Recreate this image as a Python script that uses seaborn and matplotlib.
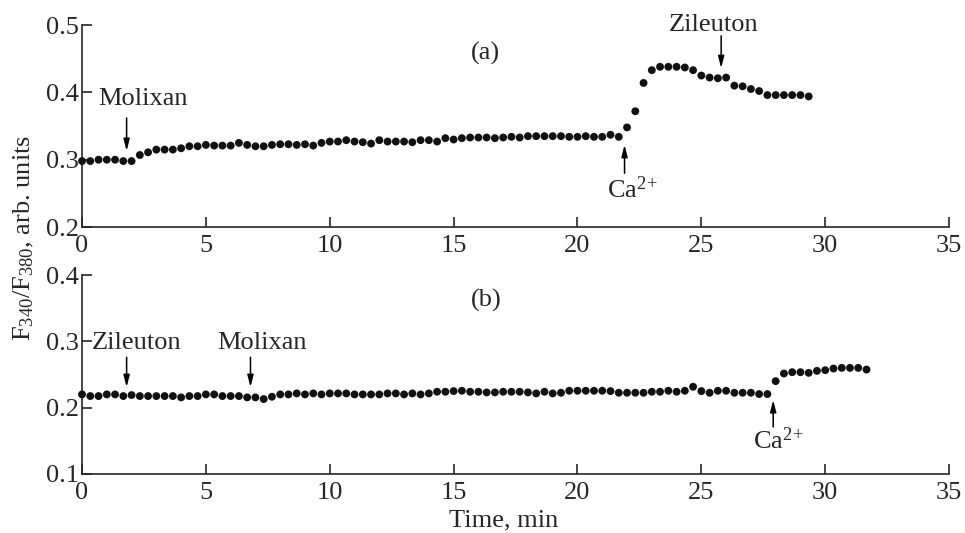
import matplotlib
matplotlib.use("Agg")
import matplotlib.pyplot as plt
import seaborn as sns
import numpy as np
import pandas as pd

# F340/F380 ratio, one reading every 20 s
sample_min = 1 / 3

ratio_a = [
    0.298, 0.298, 0.300, 0.300, 0.300, 0.298, 0.298, 0.307, 0.311, 0.315,
    0.315, 0.315, 0.317, 0.320, 0.320, 0.322, 0.321, 0.321, 0.321, 0.325,
    0.322, 0.320, 0.320, 0.322, 0.323, 0.323, 0.322, 0.323, 0.321, 0.325,
    0.327, 0.327, 0.329, 0.327, 0.326, 0.324, 0.329, 0.327, 0.327, 0.327,
    0.326, 0.329, 0.329, 0.327, 0.332, 0.330, 0.332, 0.333, 0.333, 0.333,
    0.332, 0.333, 0.334, 0.333, 0.335, 0.335, 0.335, 0.335, 0.335, 0.334,
    0.334, 0.335, 0.334, 0.334, 0.337, 0.334,
    0.348, 0.372, 0.414, 0.433, 0.438, 0.438, 0.438, 0.437, 0.433, 0.425,
    0.422, 0.421, 0.422, 0.410, 0.409, 0.405, 0.402, 0.396, 0.396, 0.396,
    0.396, 0.396, 0.394,
]

ratio_b = [
    0.220, 0.2175, 0.2175, 0.220, 0.220, 0.2175, 0.219, 0.2175, 0.2175, 0.2175,
    0.2175, 0.2175, 0.2155, 0.2175, 0.2175, 0.220, 0.220, 0.2175, 0.2175, 0.2175,
    0.2155, 0.2155, 0.213, 0.2165, 0.220, 0.220, 0.2215, 0.220, 0.2215, 0.220,
    0.2215, 0.2215, 0.2215, 0.220, 0.220, 0.220, 0.220, 0.2215, 0.2215, 0.220,
    0.2215, 0.220, 0.2215, 0.224, 0.224, 0.225, 0.2255, 0.224, 0.224, 0.223,
    0.223, 0.224, 0.224, 0.224, 0.223, 0.2215, 0.224, 0.2215, 0.2225, 0.2255,
    0.2255, 0.2255, 0.2255, 0.2255, 0.225, 0.2225, 0.2225, 0.2225, 0.2225, 0.224,
    0.224, 0.2255, 0.224, 0.2255, 0.2315, 0.225, 0.2225, 0.2255, 0.2255, 0.2225,
    0.2225, 0.2225, 0.2205, 0.2205, 0.240, 0.2515, 0.2535, 0.2535, 0.2525, 0.2555,
    0.2565, 0.259, 0.260, 0.260, 0.260, 0.2575,
]

x_ticks = [0, 5, 10, 15, 20, 25, 30, 35]
y_ticks_a = [0.2, 0.3, 0.4, 0.5]
y_ticks_b = [0.1, 0.2, 0.3, 0.4]

df_a = pd.DataFrame({"t": np.arange(len(ratio_a)) * sample_min, "r": ratio_a})
df_b = pd.DataFrame({"t": np.arange(len(ratio_b)) * sample_min, "r": ratio_b})

sns.set_style("ticks")
plt.rcParams["font.family"] = ["Liberation Serif", "DejaVu Serif"]
plt.rcParams["mathtext.fontset"] = "custom"
plt.rcParams["mathtext.rm"] = "Liberation Serif"
plt.rcParams["mathtext.it"] = "Liberation Serif:italic"
fs = 19

fig = plt.figure(figsize=(9.65, 5.33), dpi=100)
ax_a = fig.add_axes([0.085, 0.574, 0.8985, 0.379])
ax_b = fig.add_axes([0.085, 0.1107, 0.8985, 0.3733])

for ax, df, yt in [(ax_a, df_a, y_ticks_a), (ax_b, df_b, y_ticks_b)]:
    sns.scatterplot(data=df, x="t", y="r", ax=ax, color="#111111", s=32,
                    edgecolor="none", clip_on=False, zorder=3)
    ax.set_xlim(0, 35)
    ax.set_ylim(yt[0], yt[-1])
    ax.set_xticks(x_ticks)
    ax.set_yticks(yt)
    ax.set_yticklabels([f"{v:.1f}" for v in yt])
    ax.tick_params(direction="in", length=7, width=1.2, labelsize=fs)
    ax.tick_params(axis="y", pad=2)
    ax.tick_params(axis="x", pad=6)
    ax.set_xlabel("")
    ax.set_ylabel("")
    for s in ["top", "right"]:
        ax.spines[s].set_visible(False)
    for s in ["left", "bottom"]:
        ax.spines[s].set_linewidth(1.2)

arrow = dict(arrowstyle="-|>,head_length=0.7,head_width=0.18", color="black",
             lw=1.1, shrinkA=0, shrinkB=0)
ca = r"Ca$^{2\!+}$"

# panel (a)
ax_a.text(16.3, 0.458, "(a)", fontsize=fs, ha="center", va="center")
ax_a.text(2.45, 0.39, "Molixan", fontsize=fs, ha="center", va="center")
ax_a.annotate("", xy=(1.8, 0.313), xytext=(1.8, 0.362), arrowprops=arrow)
ax_a.text(25.5, 0.50, "Zileuton", fontsize=fs, ha="center", va="center", clip_on=False)
ax_a.annotate("", xy=(25.8, 0.436), xytext=(25.8, 0.484), arrowprops=arrow)
ax_a.annotate("", xy=(21.9, 0.322), xytext=(21.9, 0.280), arrowprops=arrow)
ax_a.text(22.2, 0.255, ca, fontsize=fs, ha="center", va="center")

# panel (b)
ax_b.text(16.3, 0.362, "(b)", fontsize=fs, ha="center", va="center")
ax_b.text(2.2, 0.297, "Zileuton", fontsize=fs, ha="center", va="center")
ax_b.annotate("", xy=(1.8, 0.231), xytext=(1.8, 0.276), arrowprops=arrow)
ax_b.text(7.26, 0.297, "Molixan", fontsize=fs, ha="center", va="center")
ax_b.annotate("", xy=(6.8, 0.231), xytext=(6.8, 0.276), arrowprops=arrow)
ax_b.annotate("", xy=(27.9, 0.2115), xytext=(27.9, 0.171), arrowprops=arrow)
ax_b.text(28.1, 0.151, ca, fontsize=fs, ha="center", va="center")

ax_b.set_xlabel("Time, min", fontsize=fs)
ax_b.xaxis.set_label_coords(0.486, -0.18)
fig.text(0.025, 1 - 238 / 533, r"F$_{340}$/F$_{380}$, arb. units", fontsize=fs,
         rotation=90, ha="center", va="center")

fig.savefig("out.png", dpi=100)
